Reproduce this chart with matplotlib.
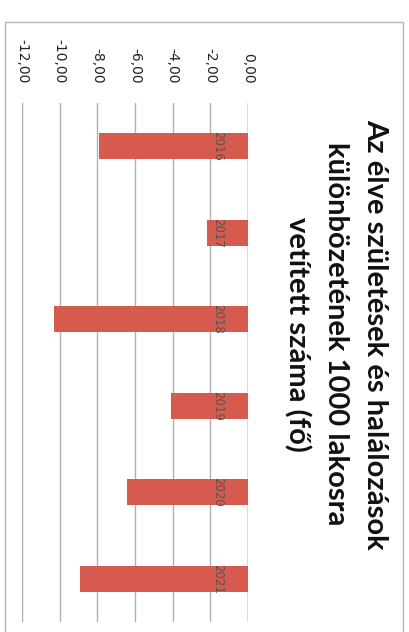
import matplotlib
matplotlib.use("Agg")
import matplotlib.pyplot as plt
from matplotlib.patches import Rectangle

years = ["2016", "2017", "2018", "2019", "2020", "2021"]
values = [-7.9, -2.2, -10.3, -4.1, -6.4, -8.9]
ticks = [-12, -10, -8, -6, -4, -2, 0]
tick_labels = ["-12,00", "-10,00", "-8,00", "-6,00", "-4,00", "-2,00", "0,00"]
title_lines = ["Az élve születések és halálozások",
               "különbözetének 1000 lakosra",
               "vetített száma (fő)"]

W, H = 410, 632
fig = plt.figure(figsize=(W / 100, H / 100), dpi=100)
fig.patch.set_facecolor("white")

# chart frame
frame = Rectangle((5 / W, -0.05), (403 - 5) / W, 1 - 22 / H + 0.05,
                  transform=fig.transFigure, fill=False, edgecolor="#b5b5b5",
                  linewidth=1.0)
fig.patches.append(frame)

x0, x1 = 22, 248
ytop, ybot = 103, 622
ax = fig.add_axes([x0 / W, 1 - ybot / H, (x1 - x0) / W, (ybot - ytop) / H])
ax.set_xlim(-12, 0)
ax.set_ylim(len(years) - 0.5, -0.5)

pos = list(range(len(years)))
ax.barh(pos, values, height=0.3, color="#d65a4e", zorder=2)

ax.set_xticks(ticks)
ax.set_xticklabels(tick_labels)
ax.xaxis.tick_top()
ax.tick_params(axis="x", length=0, pad=14, labelsize=10, labelcolor="#222222")
for lab in ax.get_xticklabels():
    lab.set_rotation(-90)
    lab.set_va("bottom")
    lab.set_ha("center")
ax.set_yticks([])
for s in ax.spines.values():
    s.set_visible(False)
ax.grid(axis="x", color="#b0b0b0", linewidth=1.0, zorder=0)
ax.axvline(0, color="#888888", linewidth=1.0, zorder=3)

for p, y in zip(pos, years):
    ax.text(-1.6, p, y, rotation=-90, ha="center", va="center",
            fontsize=8.5, color="#555555", zorder=4)

title_x = [375, 336, 297]
for tx, line in zip(title_x, title_lines):
    fig.text(tx / W, 1 - 334 / H, line, rotation=-90, ha="center", va="center",
             fontsize=21, fontweight="bold", family=["Lato", "DejaVu Sans"],
             color="#111111")

fig.savefig("out.png", dpi=100, facecolor="white")
